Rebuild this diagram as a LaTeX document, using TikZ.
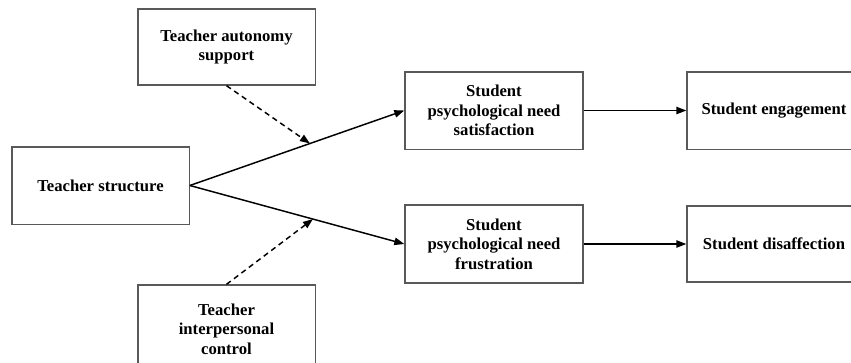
\documentclass[tikz,border=0pt]{standalone}
\usepackage{fontspec}
\setmainfont{Liberation Serif}
\usetikzlibrary{arrows.meta,calc}
\begin{document}
\begin{tikzpicture}[x=0.75pt,y=-0.75pt,
  box/.style={draw=black!65,line width=1pt,rectangle,align=center,
    font=\fontsize{12.5}{14.6}\selectfont\bfseries,inner sep=0pt},
  arr/.style={line width=1.1pt,-{Triangle[length=7.5pt,width=5.5pt]}},
  darr/.style={arr,dash pattern=on 4pt off 3pt}]
\path[use as bounding box] (0,0) rectangle (851,362);
\clip (0,0) rectangle (851,362);
\node[box,minimum width=133pt,minimum height=57pt] (auto) at (226.5,47) {Teacher autonomy\\support};
\node[box,minimum width=133pt,minimum height=58pt] (struct) at (100.5,185.5) {Teacher structure};
\node[box,minimum width=133pt,minimum height=66pt] (inter) at (226.5,329) {Teacher\\interpersonal\\control};
\node[box,minimum width=133.5pt,minimum height=58pt] (sat) at (494,110.5) {Student\\psychological need\\satisfaction};
\node[box,minimum width=133.5pt,minimum height=58.5pt] (frus) at (494,244) {Student\\psychological need\\frustration};
\node[box,minimum width=130.5pt,minimum height=58pt] (eng) at (774,110.5) {Student engagement};
\node[box,minimum width=130.5pt,minimum height=57pt] (dis) at (774,244) {Student disaffection};
\draw[arr] (struct.east) -- (sat.west);
\draw[arr] (struct.east) -- (frus.west);
\coordinate (m1) at ($(struct.east)!0.56!(sat.west)$);
\coordinate (m2) at ($(struct.east)!0.574!(frus.west)$);
\draw[darr] (auto.south) -- (m1);
\draw[darr] (inter.north) -- (m2);
\draw[arr] (sat.east) -- (eng.west);
\draw[arr] (frus.east) -- (dis.west);
\end{tikzpicture}
\end{document}
